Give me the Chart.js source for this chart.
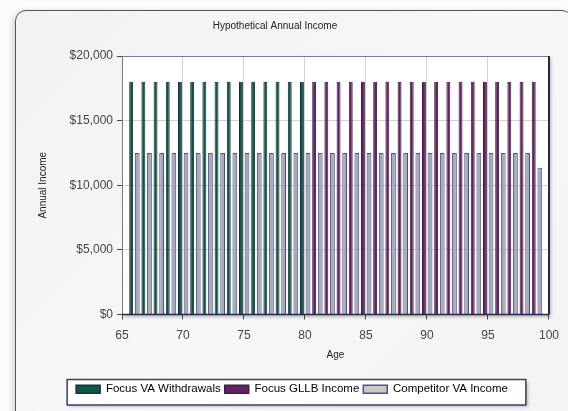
<!DOCTYPE html>
<html>
<head>
<meta charset="utf-8">
<script src="https://cdn.jsdelivr.net/npm/chart.js@4.4.1/dist/chart.umd.min.js"></script>
<style>
  html, body { margin: 0; padding: 0; background: #fbfbfb; }
  #wrap { position: relative; width: 568px; height: 411px; overflow: hidden; }
  #card {
    position: absolute; left: 15px; top: 10px; width: 556px; height: 440px;
    border: 1px solid #555; border-radius: 11px;
    background: linear-gradient(135deg, #f2f2f2 0%, #f7f7f7 50%, #f3f3f3 100%);
    box-shadow: -2px 2px 6px rgba(0,0,0,0.18);
  }
  #myChart { position: absolute; left: 0; top: 0; }
</style>
</head>
<body>
<div id="wrap">
  <div id="card"></div>
  <canvas id="myChart" width="568" height="411"></canvas>
</div>
<script>
  // values
  const ages = [66, 67, 68, 69, 70, 71, 72, 73, 74, 75, 76, 77, 78, 79, 80,
    81, 82, 83, 84, 85, 86, 87, 88, 89, 90, 91, 92, 93, 94, 95, 96, 97, 98, 99];
  const focusVA = [18000, 18000, 18000, 18000, 18000, 18000, 18000, 18000, 18000, 18000, 18000, 18000, 18000, 18000, 18000,
    null, null, null, null, null, null, null, null, null, null, null, null, null, null, null, null, null, null, null];
  const focusGLLB = [null, null, null, null, null, null, null, null, null, null, null, null, null, null, null,
    18000, 18000, 18000, 18000, 18000, 18000, 18000, 18000, 18000, 18000, 18000, 18000, 18000, 18000, 18000, 18000, 18000, 18000, 18000];
  const competitor = [12500, 12500, 12500, 12500, 12500, 12500, 12500, 12500, 12500, 12500, 12500, 12500, 12500, 12500, 12500,
    12500, 12500, 12500, 12500, 12500, 12500, 12500, 12500, 12500, 12500, 12500, 12500, 12500, 12500, 12500, 12500, 12500, 12500, 11350];
  const seriesNames = ['Focus VA Withdrawals', 'Focus GLLB Income', 'Competitor VA Income'];
  const chartTitle = 'Hypothetical Annual Income';

  const font = "'Liberation Sans', Arial, sans-serif";

  function points(values) {
    return ages.map((a, i) => ({ x: a, y: values[i] }));
  }

  // white plot area + framed legend, then frame and title on top
  const frame = {
    id: 'frame',
    beforeDraw(chart) {
      const c = chart.ctx, a = chart.chartArea;
      c.save();
      c.shadowColor = 'rgba(0,0,0,0.25)';
      c.shadowBlur = 3;
      c.shadowOffsetX = 2;
      c.shadowOffsetY = 2;
      c.fillStyle = '#ffffff';
      c.fillRect(a.left, a.top, a.right - a.left, a.bottom - a.top);
      const lg = chart.legend;
      const hb = lg.legendHitBoxes;
      const l = Math.min(...hb.map(h => h.left)) - 9;
      const r = Math.max(...hb.map(h => h.left + h.width)) + 18;
      c.fillRect(l, lg.top, r - l, lg.bottom - lg.top);
      c.shadowColor = 'transparent';
      c.strokeStyle = '#3c3f66';
      c.lineWidth = 1.5;
      c.strokeRect(l, lg.top, r - l, lg.bottom - lg.top);
      c.restore();
    },
    afterDraw(chart) {
      const c = chart.ctx, a = chart.chartArea;
      c.save();
      c.strokeStyle = '#77799a';
      c.lineWidth = 1;
      c.beginPath();
      c.moveTo(a.left + 0.5, a.bottom);
      c.lineTo(a.left + 0.5, a.top + 0.5);
      c.lineTo(a.right, a.top + 0.5);
      c.stroke();
      c.strokeStyle = '#262852';
      c.lineWidth = 2;
      c.beginPath();
      c.moveTo(a.right, a.top);
      c.lineTo(a.right, a.bottom);
      c.stroke();
      c.lineWidth = 1.5;
      c.beginPath();
      c.moveTo(a.left, a.bottom);
      c.lineTo(a.right, a.bottom);
      c.stroke();
      c.fillStyle = '#222';
      c.font = '10px ' + font;
      c.textAlign = 'center';
      c.textBaseline = 'middle';
      c.fillText(chartTitle, 275, 26);
      c.restore();
    }
  };

  const ctx = document.getElementById('myChart');

  new Chart(ctx, {
    type: 'bar',
    data: {
      datasets: [
        {
          label: seriesNames[0],
          data: points(focusVA),
          stack: 'focus',
          backgroundColor: '#0c5a3d',
          borderColor: '#1d2a4a',
          borderWidth: 1,
          barPercentage: 0.64,
          categoryPercentage: 1
        },
        {
          label: seriesNames[1],
          data: points(focusGLLB),
          stack: 'focus',
          backgroundColor: '#6a2060',
          borderColor: '#35204e',
          borderWidth: 1,
          barPercentage: 0.64,
          categoryPercentage: 1
        },
        {
          label: seriesNames[2],
          data: points(competitor),
          stack: 'comp',
          backgroundColor: '#a7a9bd',
          borderColor: '#4c4f7c',
          borderWidth: 1,
          barPercentage: 0.78,
          categoryPercentage: 1
        }
      ]
    },
    options: {
      responsive: false,
      animation: false,
      devicePixelRatio: 1,
      layout: { padding: { left: 33, right: 17, top: 56, bottom: 6 } },
      plugins: {
        title: { display: false },
        tooltip: { enabled: false },
        legend: {
          position: 'bottom',
          labels: {
            boxWidth: 24,
            boxHeight: 8,
            padding: 4,
            color: '#333',
            font: { family: font, size: 11.5 },
            generateLabels(chart) {
              const fills = ['#0c5a3d', '#6a2060', '#c9c9cc'];
              const lines = ['#1d2a4a', '#35204e', '#50537e'];
              return seriesNames.map((n, i) => ({
                text: n, fillStyle: fills[i], strokeStyle: lines[i],
                lineWidth: 1.5, datasetIndex: i, hidden: false
              }));
            }
          }
        }
      },
      scales: {
        x: {
          type: 'linear',
          min: 65,
          max: 100,
          offset: false,
          afterFit(scale) { scale.height = 65; },
          ticks: {
            stepSize: 5,
            padding: 9,
            color: '#444',
            font: { family: font, size: 12 }
          },
          grid: {
            offset: false,
            color: '#d2d2d2',
            tickColor: '#444',
            tickLength: 5
          },
          border: { display: false },
          title: {
            display: true,
            text: 'Age',
            color: '#222',
            font: { family: font, size: 10 },
            padding: { top: 4, bottom: 18 }
          }
        },
        y: {
          min: 0,
          max: 20000,
          stacked: false,
          afterFit(scale) { scale.width = 89; },
          ticks: {
            stepSize: 5000,
            padding: 4,
            color: '#444',
            font: { family: font, size: 12 },
            callback: v => '$' + v.toLocaleString('en-US')
          },
          grid: {
            color: '#d2d2d2',
            tickColor: '#444',
            tickLength: 5
          },
          border: { display: false },
          title: {
            display: true,
            text: 'Annual Income',
            color: '#222',
            font: { family: font, size: 10 },
            padding: { top: 4, bottom: 4 }
          }
        }
      }
    },
    plugins: [frame]
  });
</script>
</body>
</html>
